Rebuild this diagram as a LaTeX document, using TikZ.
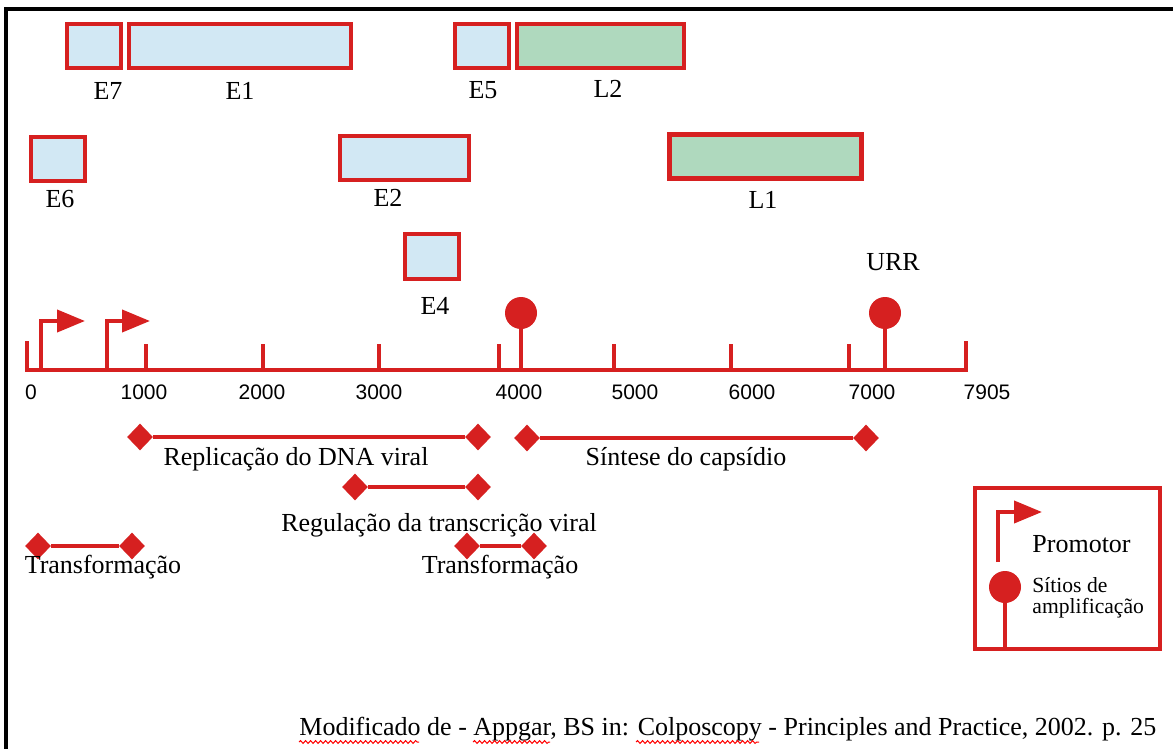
\documentclass[tikz,border=0pt]{standalone}
\usepackage{fontspec}
\setmainfont{Liberation Serif}
\setsansfont{Liberation Sans}
\usetikzlibrary{shapes.geometric,arrows.meta,decorations.pathmorphing}

\definecolor{hpvred}{RGB}{214,32,32}
\definecolor{earlyblue}{RGB}{210,232,244}
\definecolor{lategreen}{RGB}{175,217,190}

\tikzset{
  gene/.style={draw=hpvred, line width=2pt, inner sep=0pt, minimum height=22pt},
  early/.style={gene, fill=earlyblue},
  late/.style={gene, fill=lategreen},
  lbl/.style={anchor=base, inner sep=0pt, font=\fontsize{13}{15}\selectfont},
  smalllbl/.style={anchor=base west, inner sep=0pt, font=\fontsize{10.8}{12}\selectfont},
  numlbl/.style={anchor=base, inner sep=0pt, font=\sffamily\fontsize{10.5}{12}\selectfont},
  redline/.style={draw=hpvred, line width=2pt},
  site/.style={circle, fill=hpvred, inner sep=0pt, minimum size=16pt},
  endmark/.style={diamond, fill=hpvred, inner sep=0pt, minimum width=13pt, minimum height=13.5pt},
  promoter/.style={redline, -{Triangle[length=14pt,width=11pt]}},
  spell/.style={draw=red, line width=0.5pt, decorate,
    decoration={snake, amplitude=0.7pt, segment length=2.5pt}}
}

\begin{document}
\begin{tikzpicture}[x=0.5pt,y=-0.5pt]
  \useasboundingbox (0,0) rectangle (1173,749);
  % frame, left and top only
  \draw[line width=2pt] (6,749) -- (6,9) -- (1173,9);

  % genes, first row
  \node[early, minimum width=27pt]   (E7) at (94,46)    {};
  \node[early, minimum width=111pt]  (E1) at (240,46)   {};
  \node[early, minimum width=27pt]   (E5) at (482,46)   {};
  \node[late,  minimum width=83.5pt] (L2) at (600.5,46) {};
  % second row
  \node[early, minimum width=27pt]   (E6) at (58,159)    {};
  \node[early, minimum width=64.5pt] (E2) at (404.5,158) {};
  \node[late,  minimum width=96pt, line width=2.5pt] (L1) at (765.5,156.5) {};
  % third row
  \node[early, minimum width=27pt, minimum height=22.5pt] (E4) at (432,256.5) {};

  % gene names
  \node[lbl] (E7name) at (108,100) {E7};
  \node[lbl] (E1name) at (240,100) {E1};
  \node[lbl] (E5name) at (483,99)  {E5};
  \node[lbl] (L2name) at (608,98)  {L2};
  \node[lbl] (E6name) at (60,207)  {E6};
  \node[lbl] (E2name) at (388,206) {E2};
  \node[lbl] (L1name) at (763,208) {L1};
  \node[lbl] (E4name) at (435,314) {E4};
  \node[lbl] (URR)    at (893,270) {URR};

  % genome axis
  \coordinate (axL) at (25,370);
  \coordinate (axR) at (968,370);
  \draw[redline] (axL) -- (axR);
  \foreach \x/\h in {27/341,146/344,263/344,379/344,499/344,614/344,731/344,849/344,966/341}
    \draw[redline] (\x,370) -- (\x,\h);

  \node[numlbl] (n0)    at (31,399)  {0};
  \node[numlbl] (n1000) at (144,399) {1000};
  \node[numlbl] (n2000) at (262,399) {2000};
  \node[numlbl] (n3000) at (379,399) {3000};
  \node[numlbl] (n4000) at (519,399) {4000};
  \node[numlbl] (n5000) at (635,399) {5000};
  \node[numlbl] (n6000) at (752,399) {6000};
  \node[numlbl] (n7000) at (872,399) {7000};
  \node[numlbl] (n7905) at (987,399) {7905};

  % promoters
  \draw[promoter] (41,370) |- (85,321);
  \draw[promoter] (107,370) |- (150,321);

  % amplification sites
  \node[site] (ori1) at (521,313) {};
  \node[site] (ori2) at (885,313) {};
  \draw[redline] (ori1) -- (ori1 |- axL);
  \draw[redline] (ori2) -- (ori2 |- axL);

  % functional regions
  \node[endmark] (rep1) at (140,437) {};
  \node[endmark] (rep2) at (478,437) {};
  \draw[redline] (rep1) -- (rep2);
  \node[lbl] (repname) at (296,465) {Replicação do DNA viral};

  \node[endmark] (cap1) at (527,438) {};
  \node[endmark] (cap2) at (866,438) {};
  \draw[redline] (cap1) -- (cap2);
  \node[lbl] (capname) at (686,465) {Síntese do capsídio};

  \node[endmark] (reg1) at (355,487) {};
  \node[endmark] (reg2) at (478,487) {};
  \draw[redline] (reg1) -- (reg2);
  \node[lbl] (regname) at (439,531) {Regulação da transcrição viral};

  \node[endmark] (tra1) at (38,546)  {};
  \node[endmark] (tra2) at (132,546) {};
  \draw[redline] (tra1) -- (tra2);
  \node[lbl] (traname) at (103,573) {Transformação};

  \node[endmark] (trb1) at (467,546) {};
  \node[endmark] (trb2) at (534,546) {};
  \draw[redline] (trb1) -- (trb2);
  \node[lbl] (trbname) at (500,573) {Transformação};

  % legend
  \node[draw=hpvred, line width=2pt, inner sep=0pt,
        minimum width=92.5pt, minimum height=80.5pt] (legend) at (1067.5,568.5) {};
  \draw[promoter] (998,562) |- (1042,512);
  \node[lbl, anchor=base west] (promname) at (1032,552) {Promotor};
  \node[site] (ori3) at (1005,587) {};
  \draw[redline] (ori3) -- (ori3 |- legend.south);
  \node[smalllbl] (sitename1) at (1032,592) {Sítios de};
  \node[smalllbl] (sitename2) at (1032,613) {amplificação};

  % source
  \node[lbl, anchor=base west] (source) at (299,735)
    {Modificado de - Appgar, BS in: Colposcopy - Principles and Practice, 2002. p. 25};
  \draw[spell] (299,742) -- (419,742);
  \draw[spell] (473,742) -- (550,742);
  \draw[spell] (636,742) -- (759,742);
\end{tikzpicture}
\end{document}
